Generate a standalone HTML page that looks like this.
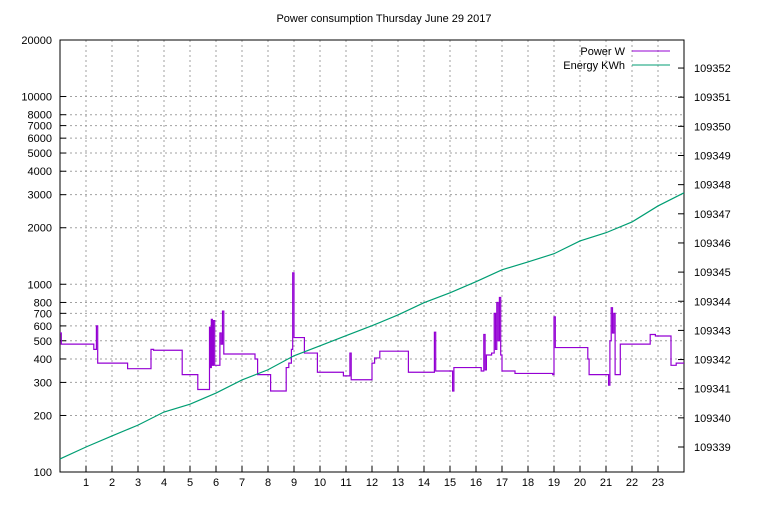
<!DOCTYPE html>
<html><head><meta charset="utf-8"><style>
body{margin:0;background:#fff}
svg text{font-family:"Liberation Sans",sans-serif;font-size:11px;fill:#000}
</style></head><body>
<svg id="chart" width="768" height="500">
<text x="384" y="22" text-anchor="middle">Power consumption Thursday June 29 2017</text>
<g id="grid"></g><g id="axes"></g><g id="series"></g>
<g>
<text x="625" y="55" text-anchor="end">Power W</text>
<line x1="632" y1="51" x2="670" y2="51" stroke="#9400d3"/>
<text x="625" y="69" text-anchor="end">Energy KWh</text>
<line x1="632" y1="65" x2="670" y2="65" stroke="#009e73"/>
</g>
</svg>
<script>
const powerHours=[0,0.05,1.3,1.4,1.45,2.6,3.5,3.6,4.7,5.3,5.75,5.78,5.82,5.86,5.9,5.95,6.1,6.15,6.2,6.25,6.3,7.5,7.6,8.1,8.7,8.8,8.9,8.95,9.0,9.4,9.9,10.9,11.15,11.2,11.9,12.0,12.1,12.3,13.4,14.4,14.45,15.1,15.15,16.2,16.3,16.35,16.4,16.6,16.7,16.75,16.8,16.85,16.9,16.95,17.0,17.5,18.95,19.0,19.05,20.3,20.35,21.1,21.15,21.2,21.25,21.3,21.35,21.45,21.55,22.5,22.7,22.9,23.5,23.7,24];
const powerWatts=[550,480,450,600,380,355,450,445,330,275,590,360,650,370,640,370,370,550,480,720,425,400,330,270,360,380,450,1150,520,430,340,325,430,310,310,380,405,440,340,555,345,270,360,345,540,350,420,430,700,450,800,500,850,420,345,335,330,670,460,400,330,290,500,750,550,700,330,330,480,480,540,530,370,380,380];
const energyHours=[0,1,2,3,4,5,6,7,8,9,10,11,12,13,14,15,16,17,18,19,20,21,22,23,24];
const energyKWh=[109338.59,109339.0,109339.38,109339.75,109340.2,109340.47,109340.85,109341.3,109341.65,109342.13,109342.47,109342.82,109343.16,109343.53,109343.95,109344.29,109344.67,109345.08,109345.35,109345.63,109346.07,109346.35,109346.72,109347.27,109347.72];
const leftTicks=[100,200,300,400,500,600,700,800,1000,2000,3000,4000,5000,6000,7000,8000,10000,20000];
const rightTicks=[109339,109340,109341,109342,109343,109344,109345,109346,109347,109348,109349,109350,109351,109352];
const xTicks=[1,2,3,4,5,6,7,8,9,10,11,12,13,14,15,16,17,18,19,20,21,22,23];
const L=60,R=684,T=40,B=472;
const X=h=>L+(R-L)*h/24;
const Y=w=>B-(B-T)*Math.log10(w/100)/Math.log10(200);
const Y2=e=>447-(e-109339)*29.15;
const NS="http://www.w3.org/2000/svg";
function mk(tag,attrs,parent,txt){const e=document.createElementNS(NS,tag);for(const k in attrs)e.setAttribute(k,attrs[k]);if(txt!==undefined)e.textContent=txt;document.getElementById(parent).appendChild(e);return e;}
xTicks.forEach(h=>{
 const g=mk('line',{x1:X(h),x2:X(h),y1:T,y2:B,stroke:'#a0a0a0','stroke-dasharray':'2,3'},'grid');
 
 
 const t=mk('line',{x1:X(h),x2:X(h),y1:B,y2:B-6,stroke:'#000'},'axes');
 
 
 const l=mk('text',{x:X(h),y:B+14,'text-anchor':'middle'},'axes',String(h));
 
 
});
leftTicks.forEach(v=>{
 const y=Y(v);
 if(v>100&&v<20000){const g=mk('line',{x1:L,x2:R,y1:y,y2:y,stroke:'#a0a0a0','stroke-dasharray':'2,3'},'grid');
 
 }
 const t=mk('line',{x1:L,x2:L+6,y1:y,y2:y,stroke:'#000'},'axes');
 
 
 const l=mk('text',{x:L-8,y:y+4,'text-anchor':'end'},'axes',String(v));
 
 
});
rightTicks.forEach(v=>{
 const y=Y2(v);
 const t=mk('line',{x1:R,x2:R-6,y1:y,y2:y,stroke:'#000'},'axes');
 
 
 const l=mk('text',{x:R+10,y:y+4},'axes',String(v));
 
 
});
const frame=mk('rect',{x:L,y:T,width:R-L,height:B-T,fill:'none',stroke:'#000'},'axes');


let d='';
for(let i=0;i<powerHours.length;i++){
 const x=X(powerHours[i]),y=Y(powerWatts[i]);
 if(i===0)d+=`M${x},${y}`;else d+=`H${x}V${y}`;
}
d+=`H${X(24)}`;
const p=mk('path',{d:d,fill:'none',stroke:'#9400d3','stroke-width':1.2},'series');


const e=mk('polyline',{points:energyHours.map((h,i)=>X(h)+','+Y2(energyKWh[i])).join(' '),fill:'none',stroke:'#009e73','stroke-width':1.2},'series');


</script>
</body></html>
